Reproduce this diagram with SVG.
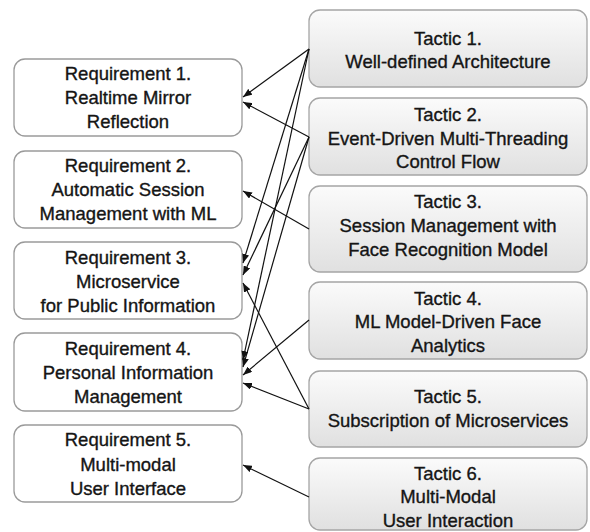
<svg xmlns="http://www.w3.org/2000/svg" width="590" height="532" viewBox="0 0 590 532">
<style>
.req rect{fill:#ffffff;stroke:#9a9a9a;stroke-width:1.3}
.tac rect{fill:url(#g);stroke:#a5a5a5;stroke-width:1.3}
text{font-family:"Liberation Sans",Arial,sans-serif;font-size:18.5px;fill:#151515;stroke:#151515;stroke-width:0.35;text-anchor:middle}
#connectors line{stroke:#111;stroke-width:1.2;marker-end:url(#ah)}
</style>
<defs>
<linearGradient id="g" x1="0" y1="0" x2="0" y2="1">
<stop offset="0" stop-color="#fbfbfb"/>
<stop offset="1" stop-color="#e0e0e0"/>
</linearGradient>
<marker id="ah" markerUnits="userSpaceOnUse" markerWidth="9" markerHeight="7" refX="9" refY="3.5" orient="auto">
<path d="M0,0 L9,3.5 L0,7 z" fill="#111"/>
</marker>
</defs>
<g id="req1" class="req"><rect x="14" y="59" width="228" height="77" rx="11"/>
<text x="128" y="80">Requirement 1.</text><text x="128" y="104">Realtime Mirror</text><text x="128" y="128">Reflection</text></g>
<g id="req2" class="req"><rect x="14" y="151" width="228" height="77" rx="11"/>
<text x="128" y="172">Requirement 2.</text><text x="128" y="196">Automatic Session</text><text x="128" y="220">Management with ML</text></g>
<g id="req3" class="req"><rect x="14" y="242" width="228" height="77" rx="11"/>
<text x="128" y="264">Requirement 3.</text><text x="128" y="288">Microservice</text><text x="128" y="312">for Public Information</text></g>
<g id="req4" class="req"><rect x="14" y="333" width="228" height="78" rx="11"/>
<text x="128" y="355">Requirement 4.</text><text x="128" y="379">Personal Information</text><text x="128" y="403">Management</text></g>
<g id="req5" class="req"><rect x="14" y="425" width="228" height="77" rx="11"/>
<text x="128" y="446">Requirement 5.</text><text x="128" y="471">Multi-modal</text><text x="128" y="495">User Interface</text></g>
<g id="tac1" class="tac"><rect x="309" y="10" width="278" height="77" rx="11"/>
<text x="448" y="45">Tactic 1.</text><text x="448" y="68">Well-defined Architecture</text></g>
<g id="tac2" class="tac"><rect x="309" y="98" width="278" height="77" rx="11"/>
<text x="448" y="121">Tactic 2.</text><text x="448" y="145">Event-Driven Multi-Threading</text><text x="448" y="168">Control Flow</text></g>
<g id="tac3" class="tac"><rect x="309" y="186" width="278" height="86" rx="11"/>
<text x="448" y="208">Tactic 3.</text><text x="448" y="232">Session Management with</text><text x="448" y="256">Face Recognition Model</text></g>
<g id="tac4" class="tac"><rect x="309" y="282" width="278" height="77" rx="11"/>
<text x="448" y="305">Tactic 4.</text><text x="448" y="328">ML Model-Driven Face</text><text x="448" y="352">Analytics</text></g>
<g id="tac5" class="tac"><rect x="309" y="371" width="278" height="76" rx="11"/>
<text x="448" y="403">Tactic 5.</text><text x="448" y="427">Subscription of Microservices</text></g>
<g id="tac6" class="tac"><rect x="309" y="458" width="278" height="72" rx="11"/>
<text x="448" y="480">Tactic 6.</text><text x="448" y="503">Multi-Modal</text><text x="448" y="527">User Interaction</text></g>
<g id="connectors">
<line x1="309" y1="49" x2="243" y2="97"/>
<line x1="309" y1="49" x2="243" y2="263"/>
<line x1="309" y1="49" x2="243" y2="360"/>
<line x1="309" y1="137" x2="243" y2="102"/>
<line x1="309" y1="137" x2="243" y2="275"/>
<line x1="309" y1="137" x2="243" y2="367"/>
<line x1="309" y1="229" x2="243" y2="191"/>
<line x1="309" y1="320" x2="243" y2="375"/>
<line x1="309" y1="409" x2="243" y2="283"/>
<line x1="309" y1="409" x2="243" y2="383"/>
<line x1="309" y1="497" x2="243" y2="465"/>
</g>
</svg>
